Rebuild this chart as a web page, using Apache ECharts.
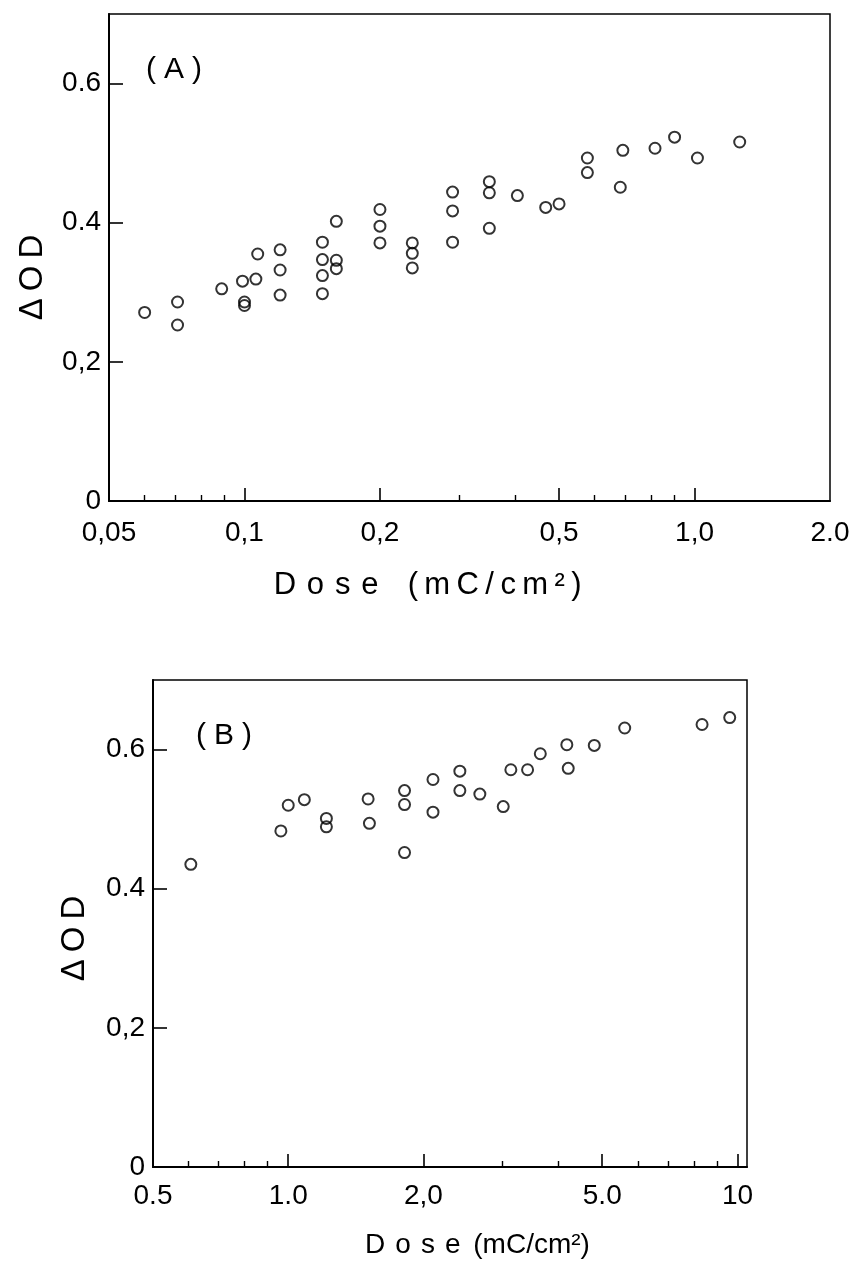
<!DOCTYPE html>
<html><head><meta charset="utf-8">
<script src="https://cdn.jsdelivr.net/npm/echarts@6/dist/echarts.min.js"></script>
<style>html,body{margin:0;padding:0;background:#fff}#c{width:855px;height:1269px}</style>
</head><body><div id="c"></div>
<script>
// ---- Panel A data ----
const doseA = [0.060,0.071,0.071,0.089,0.099,0.100,0.100,0.106,0.107,0.120,0.120,0.120,0.149,0.149,0.149,0.149,0.160,0.160,0.160,0.200,0.200,0.200,0.236,0.236,0.236,0.290,0.290,0.290,0.350,0.350,0.350,0.404,0.467,0.500,0.578,0.578,0.684,0.693,0.817,0.903,1.015,1.26];
const odA   = [0.271,0.286,0.253,0.305,0.316,0.286,0.281,0.319,0.355,0.361,0.332,0.296,0.372,0.347,0.324,0.298,0.402,0.346,0.334,0.419,0.395,0.371,0.371,0.356,0.335,0.444,0.417,0.372,0.459,0.443,0.392,0.439,0.422,0.427,0.493,0.472,0.451,0.504,0.507,0.523,0.493,0.516];
// ---- Panel B data ----
const doseB = [0.607,0.963,1.0,1.086,1.216,1.216,1.506,1.516,1.815,1.815,1.815,2.10,2.10,2.41,2.41,2.67,3.01,3.13,3.41,3.64,4.17,4.20,4.80,5.61,8.34,9.61];
const odB   = [0.435,0.483,0.520,0.528,0.501,0.489,0.529,0.494,0.541,0.521,0.452,0.557,0.510,0.569,0.541,0.536,0.518,0.571,0.571,0.594,0.607,0.573,0.606,0.631,0.636,0.646];

// ---- Tick values and labels ----
const xTicksA = [0.05, 0.1, 0.2, 0.5, 1.0, 2.0];
const xTickLabelsA = ['0,05', '0,1', '0,2', '0,5', '1,0', '2.0'];
const xMajorA = [0.1, 0.2, 0.5, 1.0];
const xMinorA = [0.06, 0.07, 0.08, 0.09, 0.3, 0.4, 0.6, 0.7, 0.8, 0.9];
const xTicksB = [0.5, 1.0, 2.0, 5.0, 10];
const xTickLabelsB = ['0.5', '1.0', '2,0', '5.0', '10'];
const xMajorB = [1.0, 2.0, 5.0, 10];
const xMinorB = [0.6, 0.7, 0.8, 0.9, 3, 4, 6, 7, 8, 9];
const yTicks = [0, 0.2, 0.4, 0.6];
const yTickLabels = ['0', '0,2', '0.4', '0.6'];
const yMajor = [0.2, 0.4, 0.6];

const xTitleWord = 'Dose';
const xTitleUnit = '(mC/cm²)';
const yTitle = 'ΔOD';
const panelA = '(A)';
const panelB = '(B)';

const FONT = 'Liberation Sans';
const BLACK = '#000';

function lookup(ticks, labels) {
  return function (v) {
    for (let i = 0; i < ticks.length; i++) {
      const t = ticks[i];
      if (t === 0 ? Math.abs(v) < 1e-9 : Math.abs(v - t) / t < 1e-6) return labels[i];
    }
    return '';
  };
}
function spaced(str, key) {
  return Array.from(str).map(ch => '{' + key + '|' + ch + '}').join('');
}

function mainX(gi, min, max, ticks, labels, majors, gap, namePad, fs, padWord, padUnit, wordGap) {
  return {
    type: 'log', logBase: 10, gridIndex: gi, min: min, max: max, position: 'bottom',
    axisLine: { show: true, onZero: false, lineStyle: { color: BLACK, width: 2 } },
    axisTick: { show: true, inside: true, length: 13, customValues: majors, lineStyle: { color: BLACK, width: 1.6 } },
    minorTick: { show: false },
    splitLine: { show: false },
    axisLabel: { customValues: ticks, formatter: lookup(ticks, labels), margin: gi === 0 ? 18 : 15,
      fontFamily: FONT, fontSize: 28, color: BLACK },
    name: spaced(xTitleWord, 'a') + '{g| }' + spaced(xTitleUnit, 'b'), nameLocation: 'middle', nameGap: gap,
    nameTextStyle: { padding: namePad, rich: {
      a: { fontFamily: FONT, fontSize: fs, color: BLACK, padding: [0, padWord] },
      g: { fontFamily: FONT, fontSize: fs, color: BLACK, padding: [0, wordGap] },
      b: { fontFamily: FONT, fontSize: fs, color: BLACK, padding: [0, padUnit] }
    } }
  };
}
function minorX(gi, min, max, minors) {
  return {
    type: 'log', logBase: 10, gridIndex: gi, min: min, max: max, position: 'bottom',
    axisLine: { show: false, onZero: false },
    axisTick: { show: true, inside: true, length: 6, customValues: minors, lineStyle: { color: BLACK, width: 1.4 } },
    axisLabel: { show: false },
    splitLine: { show: false }
  };
}
function mainY(gi, gap, namePad) {
  return {
    type: 'value', gridIndex: gi, min: 0, max: 0.7, position: 'left',
    axisLine: { show: true, onZero: false, lineStyle: { color: BLACK, width: 2 } },
    axisTick: { show: true, inside: true, length: 14, customValues: yMajor, lineStyle: { color: BLACK, width: 1.6 } },
    splitLine: { show: false },
    axisLabel: { customValues: yTicks, formatter: lookup(yTicks, yTickLabels), margin: 8,
      fontFamily: FONT, fontSize: 28, color: BLACK },
    name: spaced(yTitle, 't'), nameLocation: 'middle', nameRotate: 90, nameGap: gap,
    nameTextStyle: { padding: namePad, rich: { t: { fontFamily: FONT, fontSize: 33, color: BLACK, padding: [0, 3.5] } } }
  };
}
function scatter(xi, yi, xs, ys) {
  return {
    type: 'scatter', xAxisIndex: xi, yAxisIndex: yi,
    data: xs.map((x, i) => [x, ys[i]]),
    symbol: 'circle', symbolSize: 11,
    itemStyle: { color: 'rgba(0,0,0,0)', borderColor: BLACK, borderWidth: 2 },
    emphasis: { disabled: true }, silent: true
  };
}
function panelTitle(txt, left, top) {
  return { text: spaced(txt, 'p'), left: left, top: top,
    textStyle: { fontWeight: 'normal', rich: { p: { fontFamily: FONT, fontSize: 30, fontWeight: 'normal', color: BLACK, padding: [0, 4] } } } };
}

const chart = echarts.init(document.getElementById('c'), null, { renderer: 'canvas' });
chart.setOption({
  backgroundColor: '#fff',
  animation: false,
  title: [ panelTitle(panelA, 137, 50), panelTitle(panelB, 187, 716) ],
  grid: [
    { left: 109, top: 14, width: 721, height: 487, show: true, borderColor: BLACK, borderWidth: 1.5, containLabel: false },
    { left: 153, top: 680, width: 594, height: 487, show: true, borderColor: BLACK, borderWidth: 1.5, containLabel: false }
  ],
  xAxis: [
    mainX(0, 0.05, 2.0, xTicksA, xTickLabelsA, xMajorA, 69, [0, 86, 0, 0], 31, 5.4, 3.2, 6),
    minorX(0, 0.05, 2.0, xMinorA),
    mainX(1, 0.5, 10.5, xTicksB, xTickLabelsB, xMajorB, 64, [0, 0, 0, 50], 28, 5, 0, 0),
    minorX(1, 0.5, 10.5, xMinorB)
  ],
  yAxis: [
    mainY(0, 60, [0, 40, 0, 0]),
    mainY(1, 62, [0, 30, 0, 0])
  ],
  series: [
    scatter(0, 0, doseA, odA),
    scatter(2, 1, doseB, odB)
  ]
});
</script>
</body></html>
